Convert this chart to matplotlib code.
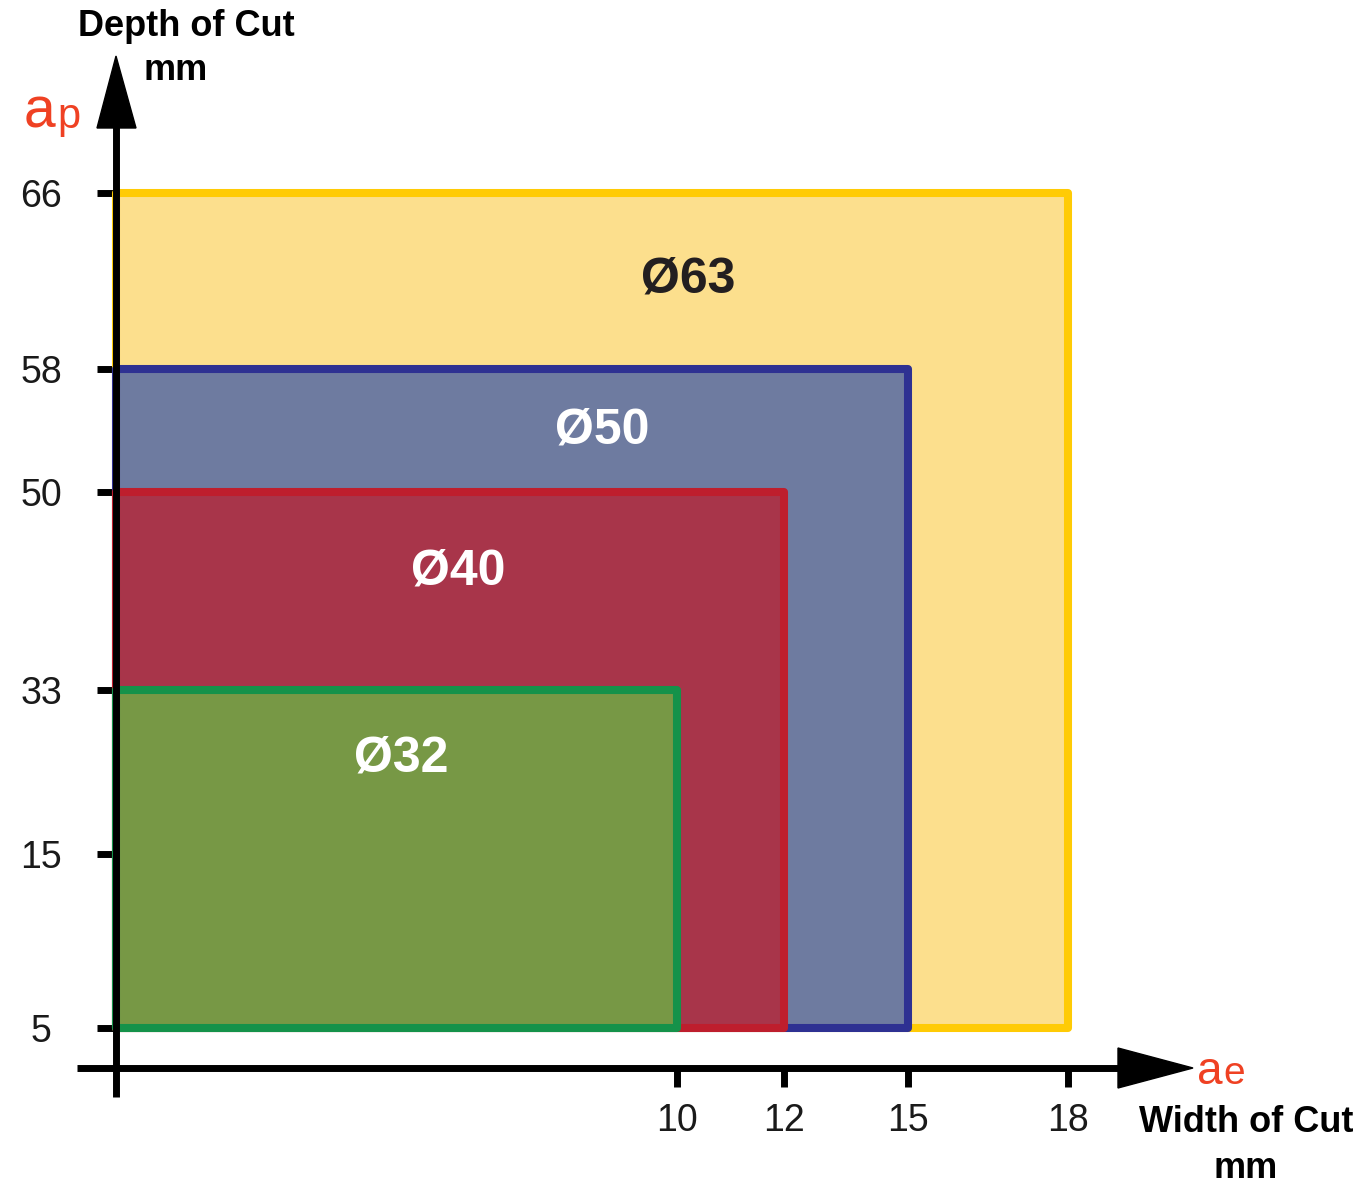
import numpy as np
import matplotlib
matplotlib.use("Agg")
import matplotlib.pyplot as plt
from matplotlib.patches import Polygon

plt.rcParams['font.family'] = ['Liberation Sans', 'DejaVu Sans']

# cutter diameters and their working envelopes (mm)
diameters = ['Ø32', 'Ø40', 'Ø50', 'Ø63']
width_of_cut = [10, 12, 15, 18]      # ae
depth_of_cut = [33, 50, 58, 66]      # ap
min_depth = 5

x_ticks = [10, 12, 15, 18]
y_ticks = [5, 15, 33, 50, 58, 66]

# colours per diameter
fills = ['#779845', '#a8354a', '#6e7ba0', '#fcdf8d']
edges = ['#15924a', '#be1e2d', '#2e3192', '#ffcb05']
label_colors = ['white', 'white', 'white', '#231f20']
label_pos = [(5.08, 26.0), (6.1, 43.6), (8.66, 54.3), (10.2, 62.3)]

# the axes are not linear: each tick value sits at a fixed pixel spot
W, H = 1357, 1189
x_knots = [0, 10, 12, 15, 18]
x_px = [116, 677, 784, 908, 1068]
y_knots = [0, 5, 15, 33, 50, 58, 66]
y_px = [1068, 1028, 854, 690, 492, 369, 193]
y_up = [H - p for p in y_px]

fig = plt.figure(figsize=(W / 100, H / 100), dpi=100)
ax = fig.add_axes([x_px[0] / W, y_up[0] / H,
                   (x_px[-1] - x_px[0]) / W, (y_up[-1] - y_up[0]) / H])

ax.set_xscale('function', functions=(lambda v: np.interp(v, x_knots, x_px),
                                     lambda p: np.interp(p, x_px, x_knots)))
ax.set_yscale('function', functions=(lambda v: np.interp(v, y_knots, y_up),
                                     lambda p: np.interp(p, y_up, y_knots)))
ax.set_xlim(0, 18)
ax.set_ylim(0, 66)

# largest envelope first so smaller ones sit on top
for i in reversed(range(len(diameters))):
    bars = ax.bar(0, depth_of_cut[i] - min_depth, width=width_of_cut[i],
                  bottom=min_depth, align='edge', color=fills[i],
                  edgecolor=edges[i], linewidth=5.8, joinstyle='round',
                  zorder=2 + (3 - i))
    for b in bars:
        b.set_clip_on(False)
    ax.text(label_pos[i][0], label_pos[i][1], diameters[i], color=label_colors[i],
            fontsize=36, fontweight='bold', ha='center', va='center_baseline',
            zorder=10)

for s in ax.spines.values():
    s.set_visible(False)
ax.set_facecolor('none')
ax.set_xticks(x_ticks)
ax.set_yticks(y_ticks)
ax.tick_params(axis='both', direction='out', length=14, width=5, color='black',
               labelsize=27, labelcolor='#1a1a1a')
ax.tick_params(axis='x', pad=11)
ax.tick_params(axis='y', pad=40)
for t in ax.get_yticklabels():
    t.set_horizontalalignment('center')

# axis arrows and titles drawn in pixel space on top
ov = fig.add_axes([0, 0, 1, 1], zorder=5)
ov.set_xlim(0, W)
ov.set_ylim(H, 0)
ov.axis('off')
ox, oy = x_px[0], y_px[0]
ov.plot([ox, ox], [oy + 29, 125], color='black', lw=5, solid_capstyle='butt')
ov.add_patch(Polygon([(ox - 19, 128), (ox + 20, 128), (ox, 56)], color='black'))
ov.plot([77, 1122], [oy, oy], color='black', lw=5, solid_capstyle='butt')
ov.add_patch(Polygon([(1118, oy - 20), (1118, oy + 20), (1193, oy)], color='black'))

ov.text(186, 27, 'Depth of Cut', fontsize=26, fontweight='bold', ha='center', va='center')
ov.text(176, 70, 'mm', fontsize=26, fontweight='bold', ha='center', va='center')
ov.text(1246, 1123, 'Width of Cut', fontsize=26, fontweight='bold', ha='center', va='center')
ov.text(1246, 1168, 'mm', fontsize=26, fontweight='bold', ha='center', va='center')

red = '#ef4123'
ov.text(24, 128, 'a', color=red, fontsize=41, ha='left', va='baseline')
ov.text(57, 128, 'p', color=red, fontsize=30, ha='left', va='baseline')
ov.text(1197, 1084, 'a', color=red, fontsize=33, ha='left', va='baseline')
ov.text(1223, 1084, 'e', color=red, fontsize=28, ha='left', va='baseline')

fig.savefig('out.png', dpi=100)
